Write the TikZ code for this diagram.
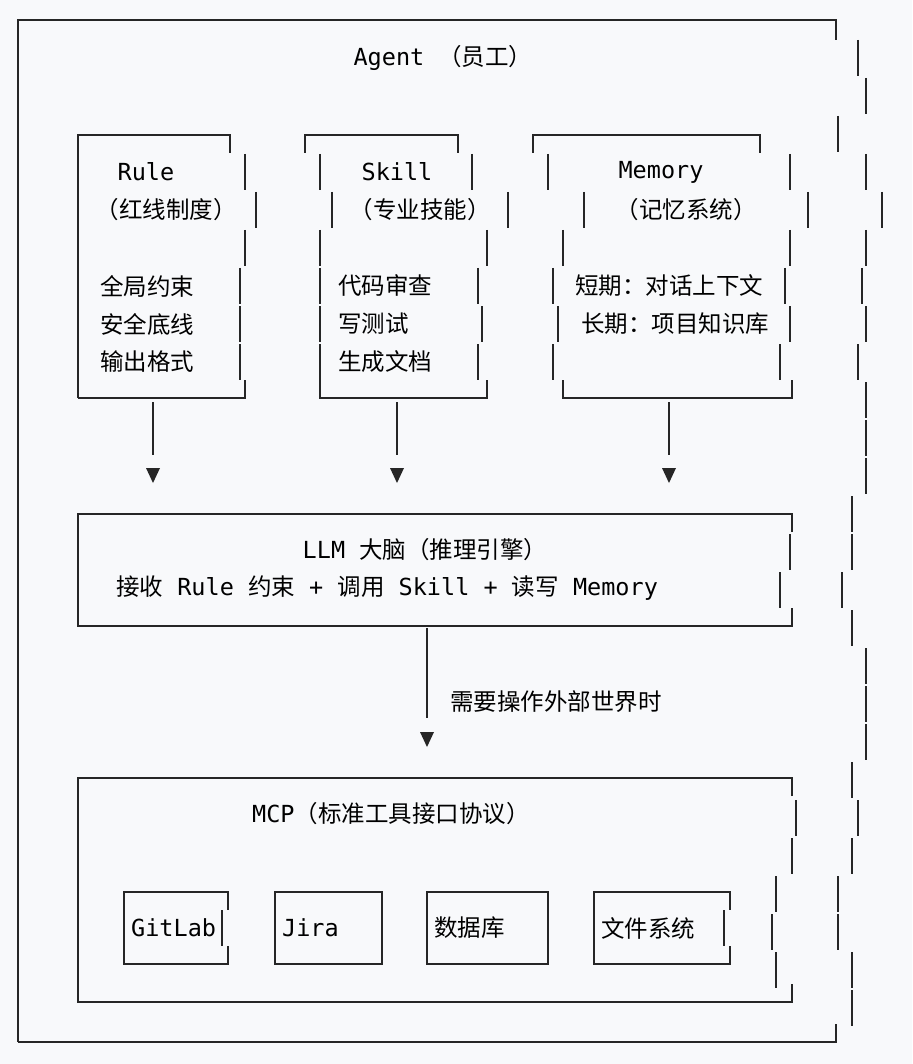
\documentclass[tikz,border=0pt]{standalone}
\usepackage{fontspec}
\setmainfont{DejaVu Sans Mono}
\newfontfamily\cjk{Noto Sans CJK SC}
\newcommand\C[1]{{\cjk #1}}
\begin{document}
\begin{tikzpicture}[x=1pt,y=-1pt,
  ln/.style={line width=1.5pt,black!85},
  tx/.style={font=\fontsize{23.5}{26}\selectfont,text=black,inner sep=0pt},
  tip/.style={fill=black!85,draw=none}]
\fill[fill={rgb,255:red,248;green,249;blue,251}] (0,0) rectangle (912,1064);
\useasboundingbox (0,0) rectangle (912,1064);
\newcommand\vs[2]{\draw[ln] (#1,#2-18) -- (#1,#2+18);}
\newcommand\dn[2]{\fill[tip] (#1-7,#2-8) -- (#1+7,#2-8) -- (#1,#2+7) -- cycle;}
% outer box
\draw[ln] (18,1042) -- (18,20) -- (836,20) -- (836,40);
\draw[ln] (18,1042) -- (836,1042) -- (836,1024);
\foreach \x/\y in {858/58,866/96,838/134,866/172,882/210,866/248,862/286,866/324,858/362,866/400,866/438,866/476,852/514,852/552,842/590,852/628,866/666,866/704,866/742,852/780,858/818,852/856,838/894,838/932,852/970,852/1008}{\vs{\x}{\y}}
\node[tx] (agent) at (443,58) {Agent \C{（员工）}};
% Rule
\draw[ln] (78,398) -- (78,135) -- (230,135) -- (230,153);
\draw[ln] (78,398) -- (245,398) -- (245,380);
\foreach \x/\y in {245/172,256/210,245/248,240/286,240/324,240/362}{\vs{\x}{\y}}
\node[tx] (rule) at (146,172) {Rule};
\node[tx] (rulec) at (166,210) {\C{（红线制度）}};
\node[tx,anchor=west] (r1) at (100,286) {\C{全局约束}};
\node[tx,anchor=west] (r2) at (100,324) {\C{安全底线}};
\node[tx,anchor=west] (r3) at (100,362) {\C{输出格式}};
% Skill
\draw[ln] (305,153) -- (305,135) -- (458,135) -- (458,153);
\draw[ln] (320,380) -- (320,398) -- (487,398) -- (487,380);
\foreach \x/\y in {320/172,332/210,320/248,320/286,320/324,320/362,472/172,508/210,487/248,478/286,482/324,478/362}{\vs{\x}{\y}}
\node[tx] (skill) at (397,172) {Skill};
\node[tx] (skillc) at (420,210) {\C{（专业技能）}};
\node[tx,anchor=west] (s1) at (338,286) {\C{代码审查}};
\node[tx,anchor=west] (s2) at (338,324) {\C{写测试}};
\node[tx,anchor=west] (s3) at (338,362) {\C{生成文档}};
% Memory
\draw[ln] (533,153) -- (533,135) -- (760,135) -- (760,153);
\draw[ln] (563,380) -- (563,398) -- (792,398) -- (792,380);
\foreach \x/\y in {548/172,584/210,563/248,553/286,558/324,553/362,790/172,808/210,790/248,785/286,790/324,780/362}{\vs{\x}{\y}}
\node[tx] (mem) at (661,172) {Memory};
\node[tx] (memc) at (686,210) {\C{（记忆系统）}};
\node[tx,anchor=west] (m1) at (575,286) {\C{短期：对话上下文}};
\node[tx,anchor=west] (m2) at (581,324) {\C{长期：项目知识库}};
% LLM
\draw[ln] (792,532) -- (792,514) -- (78,514) -- (78,626) -- (792,626) -- (792,608);
\vs{790}{552}\vs{780}{590}
\node[tx] (llm) at (425,550) {LLM \C{大脑（推理引擎）}};
\node[tx,anchor=west] (llm2) at (116,588) {\C{接收} Rule \C{约束} + \C{调用} Skill + \C{读写} Memory};
% arrows
\foreach \x in {153,397,669}{\draw[ln] (\x,402) -- (\x,455); \dn{\x}{476}}
\draw[ln] (427,628) -- (427,718); \dn{427}{740}
\node[tx,anchor=west] (need) at (450,702) {\C{需要操作外部世界时}};
% MCP
\draw[ln] (792,796) -- (792,778) -- (78,778) -- (78,1002) -- (792,1002) -- (792,984);
\foreach \x/\y in {796/818,792/856,776/894,772/932,776/970}{\vs{\x}{\y}}
\node[tx,anchor=west] (mcp) at (252,814) {MCP\C{（标准工具接口协议）}};
% small boxes
\foreach \a/\b/\c in {124/228/222,275/382/382,427/548/548,594/730/724}{
  \draw[ln] (\a,910) -- (\a,892) -- (\b,892) -- (\b,910);
  \draw[ln] (\a,946) -- (\a,964) -- (\b,964) -- (\b,946);
  \vs{\a}{928}\vs{\c}{928}}
\node[tx,anchor=west] (g) at (131,928) {GitLab};
\node[tx,anchor=west] (j) at (282,928) {Jira};
\node[tx,anchor=west] (db) at (434,928) {\C{数据库}};
\node[tx,anchor=west] (fs) at (601,928) {\C{文件系统}};
\end{tikzpicture}
\end{document}
